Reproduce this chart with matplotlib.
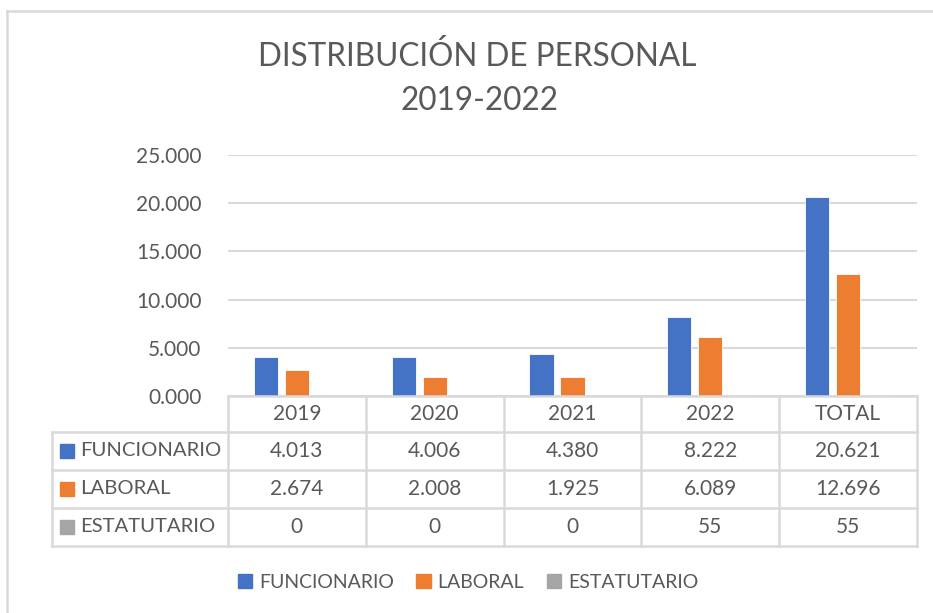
import numpy as np
import matplotlib.pyplot as plt
from matplotlib.patches import Rectangle

plt.rcParams['font.family'] = ['Lato', 'DejaVu Sans']

categorias = ['2019', '2020', '2021', '2022', 'TOTAL']
series = ['FUNCIONARIO', 'LABORAL', 'ESTATUTARIO']
funcionario = [4013, 4006, 4380, 8222, 20621]
laboral = [2674, 2008, 1925, 6089, 12696]
estatutario = [0, 0, 0, 55, 55]
yticks = [0, 5000, 10000, 15000, 20000, 25000]

colores = ['#4472C4', '#ED7D31', '#A5A5A5']
gris_texto = '#595959'
gris_linea = '#D9D9D9'

W, H = 933, 613
fig = plt.figure(figsize=(W / 100, H / 100), dpi=100)


def fx(px):
    return px / W


def fy(py):
    return 1 - py / H


# borde del grafico
fig.add_artist(plt.Line2D([fx(7), fx(7)], [fy(11), 0], color=gris_linea, lw=1.8))
fig.add_artist(plt.Line2D([fx(7), 1], [fy(11), fy(11)], color=gris_linea, lw=1.8))

# titulo
fig.text(fx(477), fy(56), 'DISTRIBUCIÓN DE PERSONAL', ha='center', va='center',
         fontsize=22.7, color=gris_texto)
fig.text(fx(480), fy(101), '2019-2022', ha='center', va='center',
         fontsize=22.7, color=gris_texto)

# area de grafico
x0, x1, y0, y1 = 228, 917, 155, 396
ax = fig.add_axes([fx(x0), fy(y1), fx(x1) - fx(x0), fy(y0) - fy(y1)])
x = np.arange(len(categorias))
ancho = 0.175
desp = 0.225
datos = [funcionario, laboral, estatutario]
for i, (vals, c) in enumerate(zip(datos, colores)):
    ax.bar(x + (i - 1) * desp, vals, ancho, color=c, edgecolor='white', linewidth=0.6,
           zorder=3)
ax.set_xlim(-0.5, len(categorias) - 0.5)
ax.set_ylim(0, 25000)
ax.set_yticks(yticks)
ax.set_yticklabels([f'{v / 1000:.3f}' for v in yticks])
ax.tick_params(axis='y', length=0, pad=19, labelsize=15, labelcolor=gris_texto)
ax.set_xticks([])
ax.grid(axis='y', color=gris_linea, lw=1.5, zorder=0)
for s in ax.spines.values():
    s.set_visible(False)

# tabla de datos
col_w = (x1 - x0) / len(categorias)
left = 52
filas = [396, 432, 470, 508, 546]
lkw = dict(color=gris_linea, lw=1.8)
# lineas horizontales
fig.add_artist(plt.Line2D([fx(x0), fx(x1)], [fy(filas[0])] * 2, **lkw))
for r in filas[1:]:
    fig.add_artist(plt.Line2D([fx(left), fx(x1)], [fy(r)] * 2, **lkw))
# lineas verticales
fig.add_artist(plt.Line2D([fx(left)] * 2, [fy(filas[1]), fy(filas[-1])], **lkw))
for j in range(len(categorias) + 1):
    xp = x0 + j * col_w
    fig.add_artist(plt.Line2D([fx(xp)] * 2, [fy(filas[0]), fy(filas[-1])], **lkw))

for j, cat in enumerate(categorias):
    cx = x0 + (j + 0.5) * col_w
    fig.text(fx(cx), fy((filas[0] + filas[1]) / 2), cat, ha='center', va='center',
             fontsize=15, color=gris_texto)
    for i, vals in enumerate(datos):
        v = vals[j]
        txt = f'{v / 1000:.3f}' if v >= 1000 else str(v)
        fig.text(fx(cx), fy((filas[i + 1] + filas[i + 2]) / 2), txt, ha='center',
                 va='center', fontsize=15, color=gris_texto)

for i, (nom, c) in enumerate(zip(series, colores)):
    cy = (filas[i + 1] + filas[i + 2]) / 2
    fig.add_artist(Rectangle((fx(60), fy(cy + 7)), fx(14), 14 / H, color=c,
                             transform=fig.transFigure))
    fig.text(fx(80), fy(cy), nom, ha='left', va='center', fontsize=14.6,
             color=gris_texto)

# leyenda
handles = [Rectangle((0, 0), 1, 1, color=c) for c in colores]
fig.legend(handles, series, loc='center', bbox_to_anchor=(fx(468), fy(582)),
           ncol=3, frameon=False, fontsize=14, labelcolor=gris_texto,
           handlelength=0.75, handleheight=0.75, handletextpad=0.35,
           columnspacing=1.15)

fig.savefig('out.png', dpi=100)
